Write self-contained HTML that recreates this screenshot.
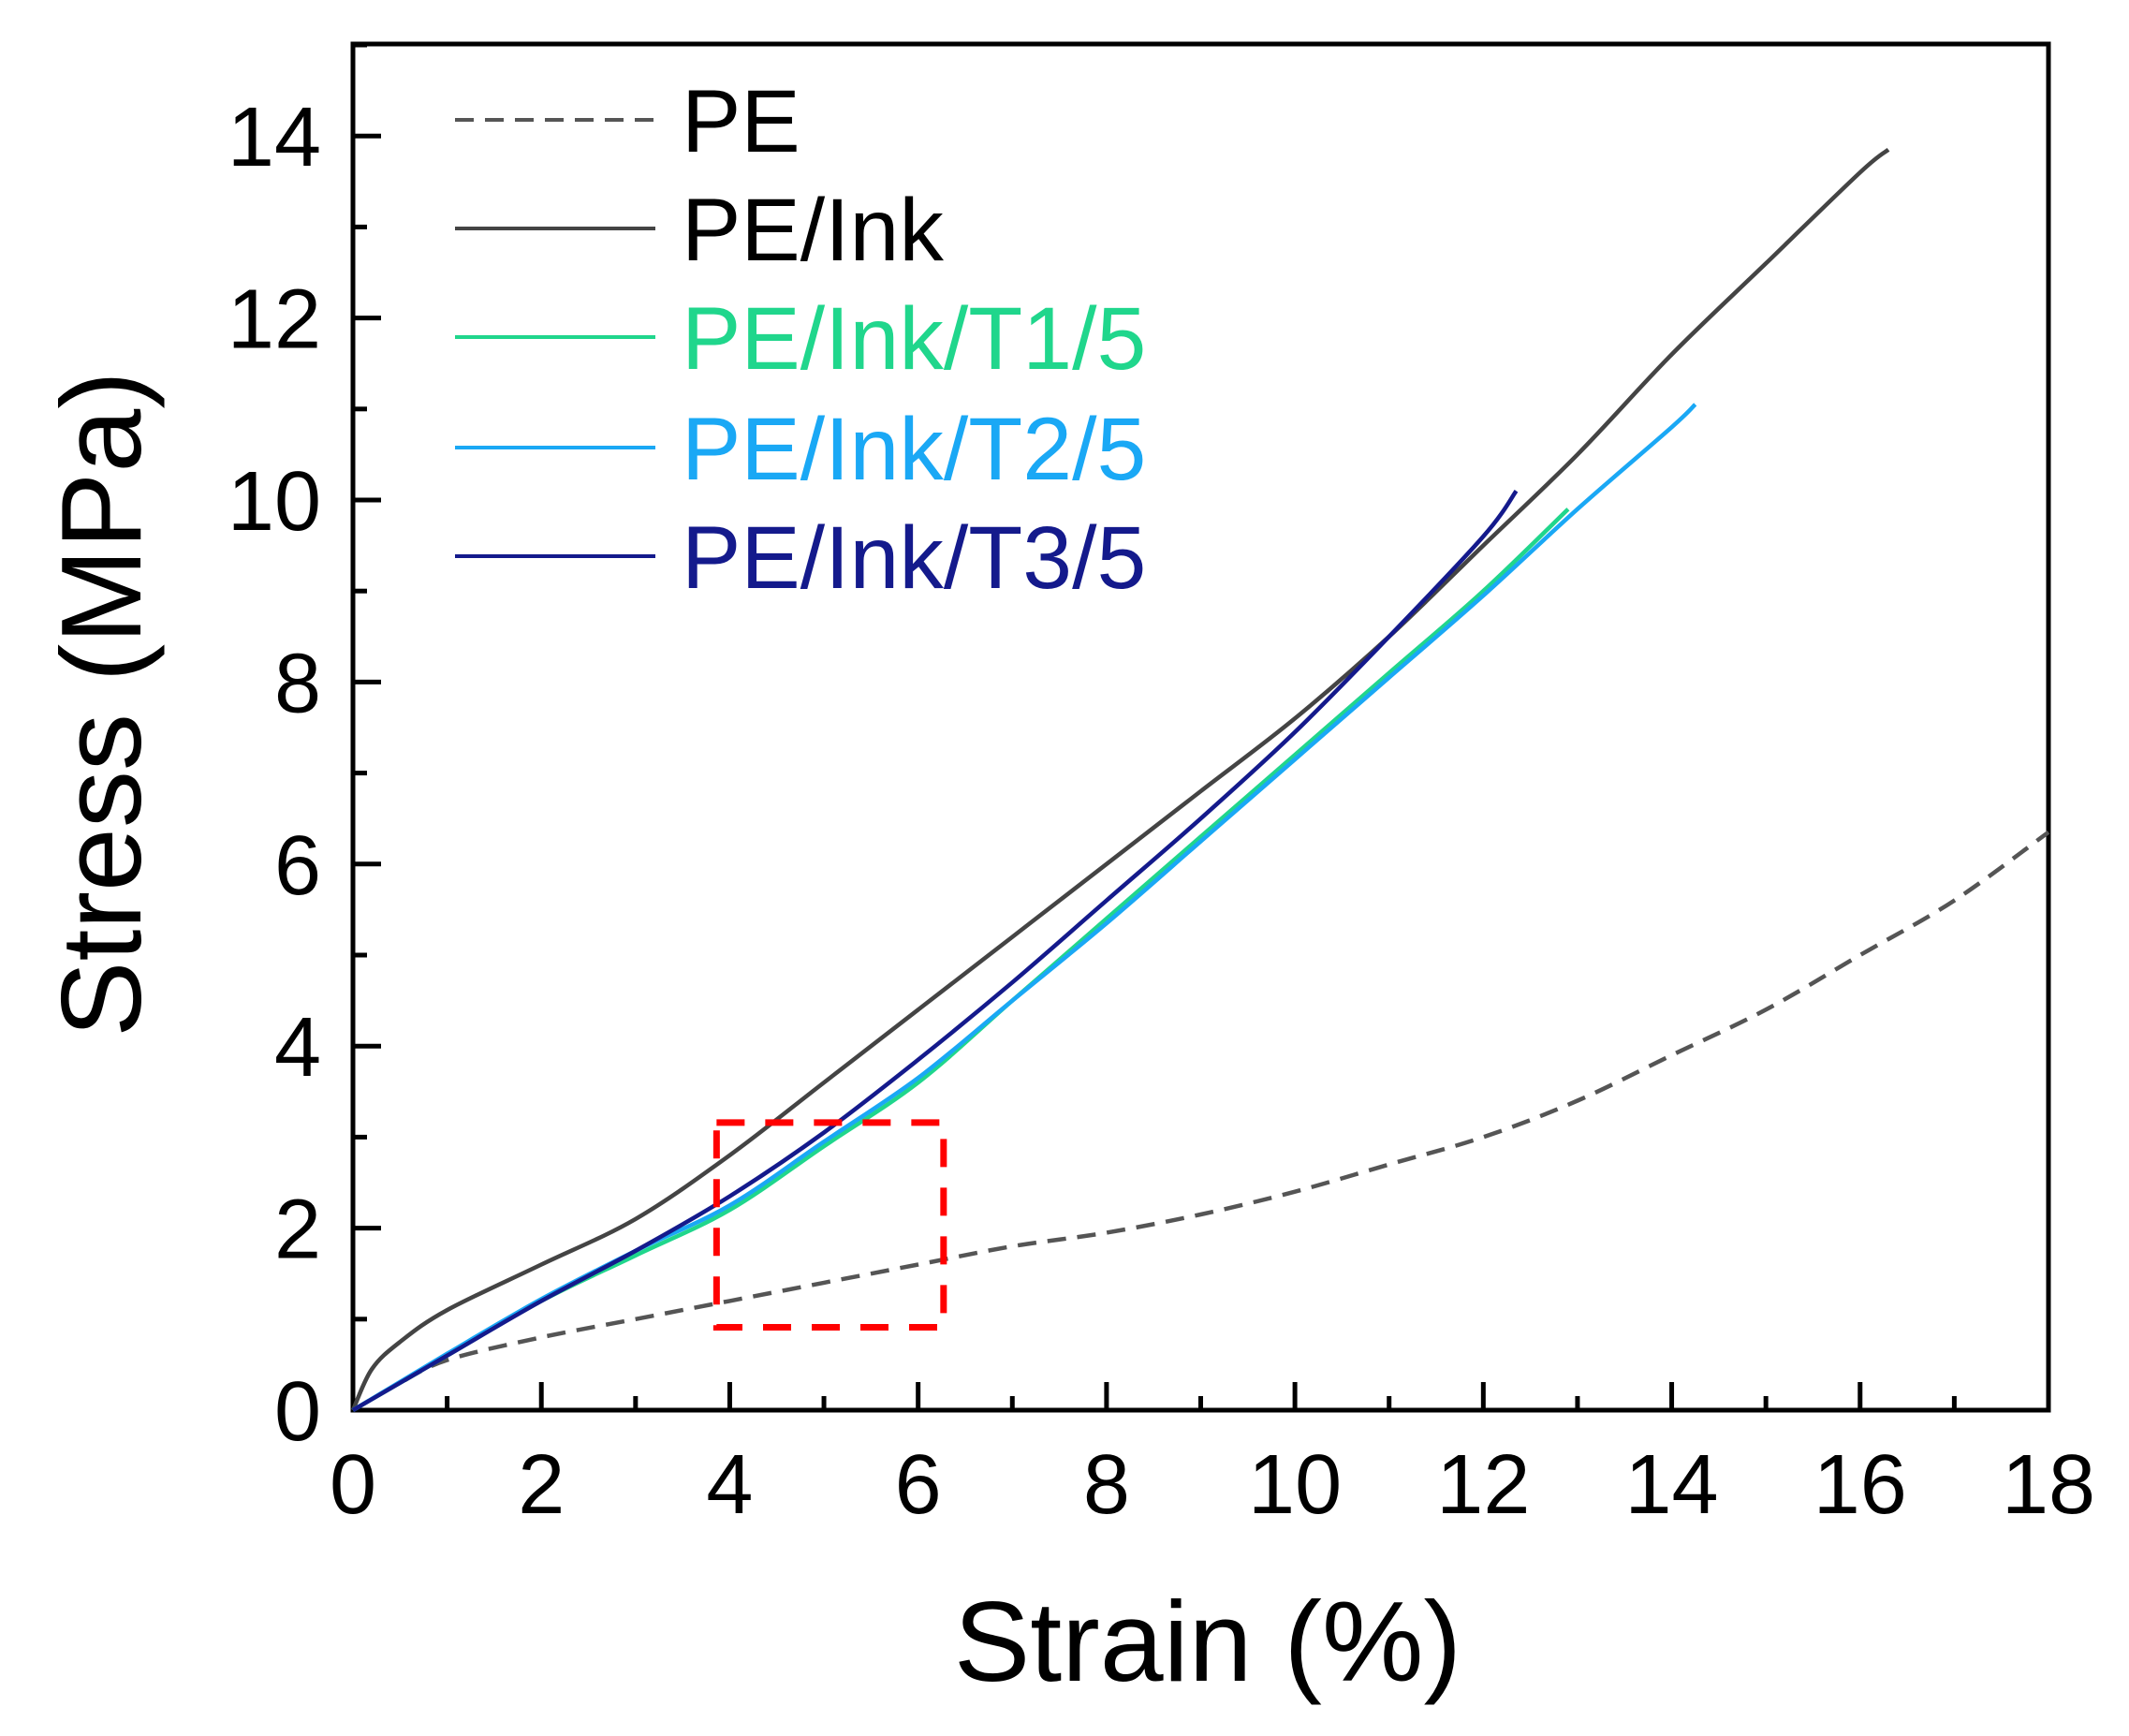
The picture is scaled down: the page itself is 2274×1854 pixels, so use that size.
<!DOCTYPE html>
<html><head><meta charset="utf-8"><style>
html,body{margin:0;padding:0;background:#fff;}
svg{display:block;font-family:"Liberation Sans",Arial,sans-serif;}
</style></head><body>
<svg id="chart" width="2274" height="1854" viewBox="0 0 2274 1854" xmlns="http://www.w3.org/2000/svg">
<g id="plot"></g>
</svg>
<script>
const xTicks=[0,2,4,6,8,10,12,14,16,18];
const yTicks=[0,2,4,6,8,10,12,14];
const peX=[0,0.5,1,2,3,4,5,6,7,8,9,10,11,12,13,14,15,16,17,18];
const peY=[0,0.3,0.55,0.8,1.0,1.2,1.4,1.6,1.8,1.95,2.15,2.4,2.7,3.0,3.4,3.9,4.4,5.0,5.6,6.35];
const inkX=[0,0.2,0.5,1,2,3,4,5,6,7,8,9,10,11,12,13,14,15,16,16.3];
const inkY=[0,0.45,0.75,1.1,1.6,2.1,2.8,3.6,4.4,5.2,6.0,6.8,7.6,8.5,9.5,10.5,11.6,12.6,13.6,13.85];
const t1X=[0,1,2,3,4,5,6,7,8,9,10,11,12,12.9];
const t1Y=[0,0.6,1.2,1.7,2.2,2.9,3.6,4.5,5.4,6.3,7.2,8.1,9.0,9.9];
const t2X=[0,1,2,3,4,5,6,7,8,9,10,11,12,13,14,14.25];
const t2Y=[0,0.62,1.22,1.75,2.25,2.95,3.65,4.5,5.35,6.25,7.15,8.05,8.95,9.9,10.8,11.05];
const t3X=[0,1,2,3,4,5,6,7,8,9,10,11,12,12.35];
const t3Y=[0,0.6,1.2,1.75,2.35,3.05,3.85,4.7,5.6,6.5,7.45,8.5,9.6,10.1];
const boxX=[3.86,6.27];
const boxY=[0.91,3.16];

const X0=377,X1=2188,Y0=1506,YT=47;
const xMax=18,yPer=97.2;
const sx=v=>X0+(X1-X0)*v/xMax;
const sy=v=>Y0-v*yPer;
const NS="http://www.w3.org/2000/svg";
const g=document.getElementById('plot');
function mk(t,a){const e=document.createElementNS(NS,t);for(const k in a)e.setAttribute(k,a[k]);g.appendChild(e);return e;}
function smooth(xs,ys){
 const P=xs.map((x,i)=>[sx(x),sy(ys[i])]);
 let d='M'+P[0][0].toFixed(1)+','+P[0][1].toFixed(1);
 for(let i=0;i<P.length-1;i++){
  const p0=P[Math.max(0,i-1)],p1=P[i],p2=P[i+1],p3=P[Math.min(P.length-1,i+2)];
  const c1=[p1[0]+(p2[0]-p0[0])/6,p1[1]+(p2[1]-p0[1])/6];
  const c2=[p2[0]-(p3[0]-p1[0])/6,p2[1]-(p3[1]-p1[1])/6];
  d+=' C'+c1.map(v=>v.toFixed(1))+' '+c2.map(v=>v.toFixed(1))+' '+p2.map(v=>v.toFixed(1));
 }
 return d;}

let fr=mk('rect',{x:X0,y:YT,width:X1-X0,height:Y0-YT,fill:'none',stroke:'#000','stroke-width':5});



for(let v=0;v<=18;v+=1){const major=v%2===0;
 let t=mk('line',{x1:sx(v),x2:sx(v),y1:Y0,y2:Y0-(major?30:15),stroke:'#000','stroke-width':5});
 
 }
xTicks.forEach(v=>{let t=mk('text',{x:sx(v),y:1616,'font-size':90,'text-anchor':'middle',fill:'#000'});t.textContent=v;
 
 });
for(let v=0;v<=15;v+=1){const major=v%2===0;
 let t=mk('line',{x1:X0,x2:X0+(major?30:15),y1:sy(v),y2:sy(v),stroke:'#000','stroke-width':5});
 
 }
yTicks.forEach(v=>{let t=mk('text',{x:343,y:sy(v)+32,'font-size':90,'text-anchor':'end',fill:'#000'});t.textContent=v;
 
 });

let xt=mk('text',{x:1290,y:1795,'font-size':122,'text-anchor':'middle',fill:'#000'});xt.textContent='Strain (%)';


let yt=mk('text',{x:0,y:0,'font-size':122,'text-anchor':'middle',fill:'#000',transform:'translate(150,752) rotate(-90)'});yt.textContent='Stress (MPa)';



const series=[
 {n:'pe',x:peX,y:peY,c:'#555',d:'20 12'},
 {n:'pe-ink',x:inkX,y:inkY,c:'#444',d:''},
 {n:'pe-ink-t1-5',x:t1X,y:t1Y,c:'#20d68c',d:''},
 {n:'pe-ink-t2-5',x:t2X,y:t2Y,c:'#1aa8f5',d:''},
 {n:'pe-ink-t3-5',x:t3X,y:t3Y,c:'#141a8c',d:''}];
series.forEach(s=>{let p=mk('path',{d:smooth(s.x,s.y),fill:'none',stroke:s.c,'stroke-width':4.5,'stroke-dasharray':s.d,'stroke-linejoin':'round'});
 
 });

let bx=mk('rect',{x:sx(boxX[0]),y:sy(boxY[1]),width:sx(boxX[1])-sx(boxX[0]),height:sy(boxY[0])-sy(boxY[1]),fill:'none',stroke:'#ff0000','stroke-width':7,'stroke-dasharray':'30 22'});



const legNames=['PE','PE/Ink','PE/Ink/T1/5','PE/Ink/T2/5','PE/Ink/T3/5'];
const legColors=['#000','#000','#20d68c','#1aa8f5','#141a8c'];
const legY=[128,244,360,478,594];
legNames.forEach((n,i)=>{
 let l=mk('line',{x1:486,x2:700,y1:legY[i],y2:legY[i],stroke:series[i].c,'stroke-width':4,'stroke-dasharray':series[i].d});
 
 
 let t=mk('text',{x:728,y:legY[i]+34,'font-size':95,fill:legColors[i]});t.textContent=n;
 
 
});
</script>
</body></html>
